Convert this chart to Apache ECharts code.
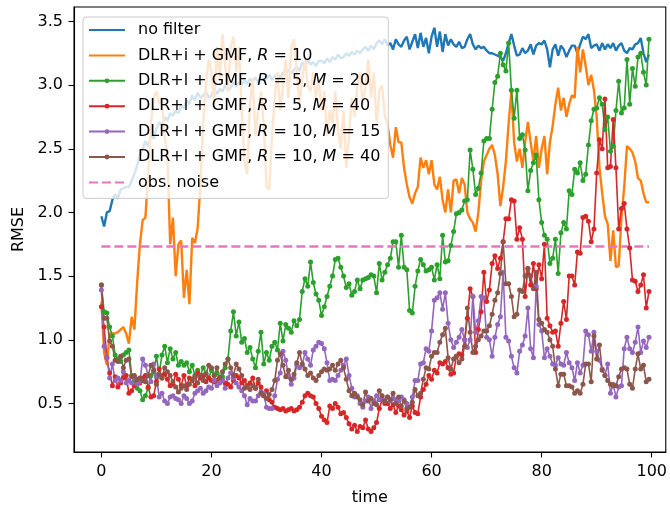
<!DOCTYPE html>
<html>
<head>
<meta charset="utf-8">
<script src="https://cdn.jsdelivr.net/npm/echarts@6/dist/echarts.min.js"></script>
<style>
  html, body { margin: 0; padding: 0; background: #fff; }
  #chart { width: 670px; height: 511px; }
</style>
</head>
<body>
<div id="chart"></div>
<script>
// RMSE over time for the different filter configurations (sampled every 0.5 time units)
const STEP = 0.5;
const N = 200;

const noFilter = [
  1.97,1.89,2.00,2.01,2.10,2.14,2.11,2.18,2.19,2.20,2.20,2.25,2.30,2.37,2.45,2.50,2.56,2.52,2.60,2.58,
  2.66,2.71,2.68,2.75,2.72,2.78,2.76,2.80,2.78,2.84,2.82,2.88,2.85,2.92,2.88,2.94,2.90,2.92,2.95,2.90,
  2.92,2.97,2.93,2.97,2.95,3.00,2.96,2.98,3.02,2.99,3.02,3.00,3.04,3.01,3.05,3.03,3.06,3.02,3.06,3.04,
  3.05,3.08,3.04,3.07,3.09,3.06,3.10,3.08,3.12,3.09,3.12,3.14,3.11,3.18,3.15,3.20,3.16,3.18,3.15,3.19,
  3.19,3.17,3.21,3.18,3.22,3.20,3.24,3.21,3.22,3.25,3.23,3.26,3.24,3.27,3.25,3.28,3.30,3.27,3.31,3.28,
  3.33,3.35,3.32,3.36,3.31,3.33,3.28,3.36,3.32,3.30,3.35,3.38,3.28,3.34,3.40,3.29,3.41,3.30,3.37,3.25,
  3.38,3.45,3.30,3.42,3.26,3.40,3.31,3.36,3.32,3.30,3.34,3.29,3.30,3.36,3.40,3.32,3.28,3.31,3.29,3.30,
  3.27,3.25,3.25,3.24,3.23,3.22,3.19,3.25,3.33,3.40,3.31,3.23,3.24,3.29,3.25,3.27,3.32,3.24,3.31,3.33,
  3.32,3.35,3.28,3.14,3.28,3.32,3.23,3.31,3.28,3.22,3.27,3.31,3.31,3.25,3.32,3.38,3.36,3.40,3.29,3.31,
  3.32,3.27,3.33,3.28,3.32,3.29,3.33,3.27,3.31,3.33,3.27,3.25,3.29,3.28,3.32,3.33,3.37,3.25,3.18,3.24
];

const dlriR10 = [
  1.30,0.90,0.80,1.05,1.05,1.05,1.06,1.08,1.10,1.05,0.97,1.18,1.08,1.45,1.75,1.94,1.96,2.30,2.70,2.90,
  2.95,2.85,2.90,2.60,2.45,1.75,1.96,1.50,1.75,1.78,1.33,1.55,1.28,1.80,1.76,1.88,2.22,2.70,3.00,3.20,
  3.10,2.85,3.30,3.05,3.40,3.15,2.95,3.30,3.38,3.10,3.30,2.80,2.40,2.30,2.85,3.05,2.60,2.80,2.95,2.70,
  2.20,2.18,2.60,2.90,3.10,2.80,3.00,3.20,2.90,3.30,3.36,3.10,2.85,3.05,3.20,3.00,2.95,3.10,2.90,3.05,
  2.80,2.95,2.60,2.80,2.70,2.95,2.65,2.50,2.80,2.35,2.60,2.90,2.75,3.00,3.10,2.85,3.00,3.20,2.90,3.10,
  2.70,2.95,3.00,2.76,2.69,2.53,2.43,2.67,2.55,2.55,2.35,2.22,2.12,2.07,2.15,2.20,2.43,2.35,2.41,2.30,
  2.41,2.22,2.18,2.28,2.10,2.00,2.18,2.00,2.25,2.26,2.15,2.27,2.22,2.00,1.95,1.92,1.85,2.00,2.25,2.40,
  2.45,2.50,2.53,2.45,2.30,2.05,2.20,2.40,2.70,2.95,2.55,2.40,2.50,2.35,2.55,2.71,2.55,2.40,2.60,2.35,
  2.50,2.60,2.30,2.55,2.68,2.85,2.98,2.80,2.90,2.75,2.85,2.92,2.90,3.30,3.10,3.28,3.15,3.00,3.08,2.96,
  2.75,2.35,2.15,1.97,1.91,1.62,1.86,1.57,1.58,1.96,2.20,2.52,2.50,2.47,2.40,2.27,2.25,2.15,2.08,2.08
];

const dlrlR5M20 = [
  1.43,1.22,1.21,1.10,1.03,0.88,0.85,0.83,0.88,0.90,0.92,0.72,0.68,0.62,0.60,0.53,0.56,0.62,0.72,0.75,
  0.87,0.73,0.88,0.95,0.82,0.93,0.85,0.90,0.80,0.83,0.80,0.82,0.75,0.80,0.72,0.76,0.72,0.78,0.74,0.70,
  0.76,0.72,0.74,0.70,0.71,0.78,0.85,1.07,1.22,1.03,1.14,0.98,1.01,0.90,0.94,0.85,0.78,0.91,1.06,0.81,
  0.90,0.84,0.95,0.98,0.92,1.13,0.99,1.12,1.09,1.06,1.15,1.11,1.16,1.38,1.48,1.42,1.61,1.45,1.36,1.31,
  1.19,1.26,1.34,1.42,1.50,1.63,1.64,1.57,1.50,1.41,1.44,1.35,1.38,1.47,1.40,1.47,1.48,1.49,1.51,1.50,
  1.37,1.60,1.47,1.53,1.59,1.64,1.77,1.77,1.57,1.82,1.57,1.55,1.23,1.21,1.42,1.54,1.63,1.59,1.54,1.55,
  1.57,1.47,1.59,1.48,1.82,1.61,1.62,1.74,1.85,1.99,2.00,2.02,2.09,2.10,2.49,2.34,2.14,2.19,2.31,2.56,
  2.58,2.58,2.81,3.02,3.07,3.25,3.16,3.11,3.33,2.96,2.74,2.96,2.58,2.61,2.49,2.17,2.33,2.39,2.45,2.10,
  1.92,1.82,1.79,1.60,1.64,1.79,1.52,1.84,1.92,1.87,2.17,2.14,2.34,2.31,2.39,2.25,2.30,2.53,2.72,2.81,
  2.82,2.90,2.85,2.65,2.75,2.48,2.52,2.80,3.03,2.78,2.82,3.20,2.85,3.13,2.99,3.22,3.25,3.10,3.00,3.36
];

const dlrlR5M40 = [
  1.26,1.10,0.86,0.74,0.64,0.71,0.63,0.66,0.70,0.72,0.58,0.60,0.64,0.67,0.66,0.70,0.72,0.63,0.55,0.56,
  0.67,0.77,0.70,0.73,0.69,0.64,0.65,0.73,0.69,0.64,0.72,0.64,0.70,0.68,0.64,0.74,0.70,0.72,0.67,0.70,
  0.68,0.67,0.68,0.70,0.68,0.66,0.65,0.63,0.68,0.72,0.70,0.66,0.68,0.64,0.66,0.70,0.62,0.66,0.63,0.56,
  0.60,0.53,0.51,0.47,0.46,0.45,0.46,0.44,0.45,0.46,0.44,0.45,0.47,0.51,0.56,0.58,0.56,0.55,0.50,0.46,
  0.40,0.37,0.35,0.48,0.46,0.50,0.47,0.42,0.43,0.39,0.34,0.30,0.33,0.28,0.32,0.31,0.37,0.30,0.28,0.31,
  0.35,0.46,0.53,0.50,0.50,0.46,0.49,0.43,0.48,0.45,0.41,0.44,0.39,0.48,0.43,0.42,0.55,0.61,0.65,0.72,
  0.69,0.76,0.74,0.82,0.81,0.83,0.78,0.73,0.74,0.87,0.89,0.88,1.00,1.17,1.40,1.34,0.90,1.08,1.22,1.53,
  1.30,1.39,1.60,1.66,1.56,1.64,1.77,1.95,1.95,2.10,2.09,1.79,1.88,1.79,1.34,1.56,1.43,1.60,1.40,1.59,
  1.48,1.75,1.17,1.11,1.06,1.07,0.95,1.13,1.30,1.16,1.50,1.50,1.43,1.69,1.68,1.96,1.97,1.93,1.77,1.87,
  2.31,2.57,2.50,2.89,2.35,2.36,2.73,2.35,1.87,2.03,2.07,1.87,1.72,1.47,1.46,1.38,1.43,1.51,1.25,1.38
];

const dlrlR10M15 = [
  1.39,0.95,0.86,0.70,0.81,0.68,0.70,0.68,0.75,0.66,0.68,0.66,0.70,0.65,0.67,0.85,0.80,0.72,0.67,0.81,
  0.72,0.55,0.58,0.52,0.50,0.55,0.56,0.54,0.53,0.50,0.56,0.54,0.50,0.52,0.58,0.60,0.62,0.58,0.60,0.63,
  0.62,0.68,0.64,0.66,0.68,0.62,0.70,0.74,0.70,0.66,0.63,0.60,0.56,0.49,0.54,0.52,0.52,0.56,0.59,0.58,
  0.47,0.46,0.46,0.56,0.69,0.74,0.91,0.84,0.71,0.65,0.70,0.80,0.78,0.80,0.90,0.85,0.80,0.92,0.95,0.98,
  0.97,0.93,0.82,0.68,0.69,0.68,0.72,0.76,0.80,0.85,0.72,0.62,0.55,0.56,0.50,0.47,0.52,0.55,0.46,0.52,
  0.56,0.53,0.55,0.52,0.55,0.52,0.54,0.53,0.52,0.55,0.53,0.50,0.47,0.55,0.68,0.68,0.81,0.82,0.93,0.91,
  1.07,1.31,1.33,1.37,1.24,1.37,1.13,1.00,0.94,0.98,1.02,1.08,1.00,0.94,1.00,1.34,1.06,1.15,1.34,1.33,
  1.02,1.00,0.87,1.02,1.12,1.18,1.53,1.02,0.99,0.87,0.78,0.74,0.91,0.96,1.03,1.25,0.93,0.86,1.42,1.12,
  1.07,0.86,0.93,0.87,0.81,0.80,0.86,0.81,0.80,0.90,0.82,0.78,0.68,0.82,0.74,0.80,1.07,1.04,0.91,1.06,
  0.91,0.84,0.77,0.72,0.81,0.58,0.65,0.55,0.63,0.64,0.93,1.02,0.93,0.90,0.98,1.10,0.90,0.99,0.94,1.02
];

const dlrlR10M40 = [
  1.43,1.17,1.17,0.99,0.95,0.84,0.83,0.87,0.78,0.84,0.85,0.71,0.72,0.69,0.70,0.68,0.67,0.72,0.80,0.76,
  0.65,0.73,0.70,0.78,0.75,0.72,0.67,0.63,0.59,0.62,0.64,0.61,0.65,0.69,0.71,0.66,0.72,0.68,0.73,0.80,
  0.78,0.72,0.78,0.70,0.75,0.81,0.85,0.78,0.72,0.81,0.77,0.72,0.62,0.63,0.61,0.64,0.62,0.69,0.58,0.56,
  0.54,0.57,0.61,0.68,0.84,0.89,0.80,0.71,0.76,0.69,0.73,0.82,0.90,0.81,0.77,0.72,0.74,0.70,0.68,0.72,
  0.75,0.77,0.76,0.77,0.80,0.76,0.81,0.84,0.78,0.69,0.60,0.56,0.58,0.55,0.53,0.49,0.59,0.52,0.54,0.50,
  0.49,0.60,0.56,0.52,0.55,0.53,0.58,0.50,0.55,0.48,0.52,0.46,0.47,0.51,0.61,0.56,0.58,0.69,0.78,0.77,
  0.87,0.90,0.90,0.98,1.04,1.09,0.86,0.77,0.85,0.87,0.82,0.85,0.95,1.25,1.06,0.90,0.95,1.00,1.03,1.07,
  1.07,1.11,1.20,1.31,1.37,1.52,1.77,1.44,1.44,1.34,1.18,1.20,1.39,1.38,1.50,1.56,1.50,1.40,1.53,1.16,
  1.13,1.08,1.06,1.00,0.95,0.77,0.64,0.73,0.73,0.64,0.64,0.63,0.58,0.60,0.58,0.65,0.81,0.81,0.67,1.03,
  0.85,0.96,0.76,0.72,0.68,0.65,0.64,0.64,0.71,0.77,0.78,0.77,0.65,0.62,0.77,0.89,0.77,0.80,0.67,0.69
];

// observation noise level (sqrt(3))
const obsNoise = 1.732;

const xTicks = [0, 20, 40, 60, 80, 100];
const yTicks = [0.5, 1.0, 1.5, 2.0, 2.5, 3.0, 3.5];

const time = Array.from({ length: N }, (_, i) => i * STEP);
const pairs = vals => vals.map((v, i) => [time[i], v]);

const FONT = 'DejaVu Sans';
const FS = 16;
const legendLabels = {
  'no filter': 'no filter',
  'DLR+i + GMF, R = 10': 'DLR+i + GMF, {i|R} = 10',
  'DLR+l + GMF, R = 5, M = 20': 'DLR+l + GMF, {i|R} = 5, {i|M} = 20',
  'DLR+l + GMF, R = 5, M = 40': 'DLR+l + GMF, {i|R} = 5, {i|M} = 40',
  'DLR+l + GMF, R = 10, M = 15': 'DLR+l + GMF, {i|R} = 10, {i|M} = 15',
  'DLR+l + GMF, R = 10, M = 40': 'DLR+l + GMF, {i|R} = 10, {i|M} = 40',
  'obs. noise': 'obs. noise'
};
// entries drawn as a bare line in the legend
const lineOnly = new Set(['no filter', 'DLR+i + GMF, R = 10', 'obs. noise']);

function plainLine(name, color, vals) {
  return {
    name, type: 'line', data: pairs(vals),
    symbol: 'none', showSymbol: false,
    lineStyle: { color, width: 2.4 },
    itemStyle: { color },
    emphasis: { disabled: true }, silent: true
  };
}
function markedLine(name, color, vals) {
  return {
    name, type: 'line', data: pairs(vals),
    symbol: 'circle', symbolSize: 5, showSymbol: true, showAllSymbol: true,
    lineStyle: { color, width: 1.6 },
    itemStyle: { color, borderWidth: 0 },
    emphasis: { disabled: true }, silent: true
  };
}

const chart = echarts.init(document.getElementById('chart'), null, { renderer: 'canvas' });
chart.setOption({
  animation: false,
  backgroundColor: '#ffffff',
  textStyle: { fontFamily: FONT },
  grid: {
    left: 74, top: 7, right: 3, bottom: 54,
    show: true, borderColor: '#000', borderWidth: 1.1, backgroundColor: 'transparent'
  },
  xAxis: {
    type: 'value', min: -4.975, max: 102.55,
    name: 'time', nameLocation: 'middle', nameGap: 38,
    nameTextStyle: { fontFamily: FONT, fontSize: FS, color: '#000' },
    axisLine: { show: true, onZero: false, lineStyle: { color: '#000', width: 1.1 } },
    axisTick: { show: true, length: 5.5, customValues: xTicks, lineStyle: { color: '#000', width: 1.1 } },
    axisLabel: { customValues: xTicks, margin: 12, fontFamily: FONT, fontSize: FS, color: '#000' },
    splitLine: { show: false }
  },
  yAxis: {
    type: 'value', min: 0.119, max: 3.613,
    name: 'RMSE', nameLocation: 'middle', nameGap: 45, nameRotate: 90,
    nameTextStyle: { fontFamily: FONT, fontSize: FS, color: '#000' },
    axisLine: { show: true, onZero: false, lineStyle: { color: '#000', width: 1.1 } },
    axisTick: { show: true, length: 5.5, customValues: yTicks, lineStyle: { color: '#000', width: 1.1 } },
    axisLabel: { customValues: yTicks, margin: 11, fontFamily: FONT, fontSize: FS, color: '#000',
                 formatter: v => v.toFixed(1) },
    splitLine: { show: false }
  },
  legend: {
    left: 83, top: 17, orient: 'vertical',
    padding: [5, 8, 8, 5],
    itemWidth: 36, itemHeight: 6, itemGap: 9.4,
    backgroundColor: 'rgba(255,255,255,0.8)',
    borderColor: '#cccccc', borderWidth: 1, borderRadius: 3,
    selectedMode: false,
    textStyle: {
      fontFamily: FONT, fontSize: FS, color: '#000', lineHeight: 16, padding: [0, 0, 0, 8],
      rich: { i: { fontFamily: FONT, fontStyle: 'italic', fontSize: FS, color: '#000', lineHeight: 16 } }
    },
    formatter: name => legendLabels[name] || name,
    data: Object.keys(legendLabels).map(name =>
      lineOnly.has(name) ? { name, itemStyle: { opacity: 0 } } : { name })
  },
  series: [
    plainLine('no filter', '#1f77b4', noFilter),
    plainLine('DLR+i + GMF, R = 10', '#ff7f0e', dlriR10),
    markedLine('DLR+l + GMF, R = 5, M = 20', '#2ca02c', dlrlR5M20),
    markedLine('DLR+l + GMF, R = 5, M = 40', '#d62728', dlrlR5M40),
    markedLine('DLR+l + GMF, R = 10, M = 15', '#9467bd', dlrlR10M15),
    markedLine('DLR+l + GMF, R = 10, M = 40', '#8c564b', dlrlR10M40),
    {
      name: 'obs. noise', type: 'line',
      data: [[time[0], obsNoise], [time[N - 1], obsNoise]],
      symbol: 'none', showSymbol: false,
      lineStyle: { color: '#e377c2', width: 2.4, type: [9, 4] },
      itemStyle: { color: '#e377c2' },
      emphasis: { disabled: true }, silent: true
    }
  ]
});
</script>
</body>
</html>
